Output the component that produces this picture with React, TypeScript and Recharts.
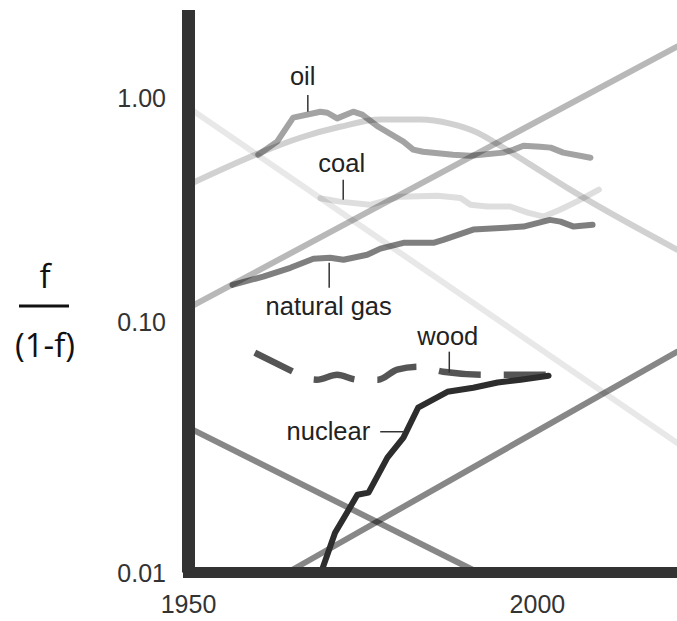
import { LineChart, Line, XAxis, YAxis, ReferenceLine, ReferenceDot } from "recharts";

// ---- data (f/(1-f) on a log scale) ----
const X_TICKS = [1950, 2000];
const Y_TICKS = [0.0077, 0.1, 1];
const Y_TICK_LABELS = ["0.01", "0.10", "1.00"];

const coalFitYears = [1950, 2020];
const coalFitValues = [0.904, 0.0291];

const oilFitYears = [1950, 1960.3, 1966.0, 1971.7, 1977.5, 1983.2, 1987.5, 1991.1, 1995.1, 1999.0, 2004.7, 2020];
const oilFitValues = [0.41, 0.57, 0.664, 0.743, 0.8, 0.8, 0.767, 0.706, 0.6, 0.504, 0.39, 0.211];

const gasFitYears = [1950, 2020];
const gasFitValues = [0.116, 1.69];

const fallingFitYears = [1950, 1991.5];
const fallingFitValues = [0.034, 0.0077];

const risingFitYears = [1964.2, 2020];
const risingFitValues = [0.0077, 0.074];

const coalYears = [1968.9, 1971.7, 1976.0, 1980.3, 1985.7, 1989.0, 1990.4, 1992.8, 1996.1, 1998.6, 2000.9, 2003.3, 2005.7, 2008.8];
const coalValues = [0.357, 0.345, 0.334, 0.363, 0.366, 0.358, 0.334, 0.328, 0.328, 0.308, 0.296, 0.318, 0.346, 0.39];

const oilYears = [1960.0, 1962.7, 1965.0, 1968.9, 1969.9, 1971.3, 1973.6, 1974.9, 1977.2, 1980.8, 1982.2, 1983.6, 1987.9, 1990.4, 1995.1, 1996.6, 1998.0, 2000.4, 2001.9, 2003.7, 2007.6];
const oilValues = [0.558, 0.638, 0.816, 0.867, 0.858, 0.81, 0.867, 0.841, 0.743, 0.638, 0.588, 0.575, 0.558, 0.552, 0.57, 0.588, 0.612, 0.605, 0.6, 0.57, 0.541];

const gasYears = [1956.3, 1960.7, 1964.6, 1967.9, 1970.3, 1972.2, 1975.6, 1977.5, 1980.8, 1985.1, 1986.5, 1990.8, 1998.0, 2001.8, 2003.3, 2005.2, 2007.9];
const gasValues = [0.147, 0.16, 0.175, 0.192, 0.194, 0.19, 0.2, 0.213, 0.226, 0.226, 0.233, 0.259, 0.267, 0.286, 0.281, 0.267, 0.272];

const woodYears = [1959.5, 1965.0, 1966.7, 1968.4, 1971.3, 1974.2, 1977.2, 1979.9, 1982.9, 1986.5, 1992.5, 2001.8];
const woodValues = [0.0733, 0.0603, 0.0567, 0.0556, 0.0585, 0.0556, 0.0556, 0.0616, 0.0635, 0.0603, 0.0585, 0.0585];

const nuclearYears = [1969.0, 1971.0, 1972.7, 1974.2, 1975.8, 1978.5, 1980.8, 1982.9, 1987.1, 1990.8, 1994.3, 1997.6, 2001.6];
const nuclearValues = [0.0077, 0.01158, 0.01422, 0.0171, 0.01746, 0.025, 0.0307, 0.0417, 0.0491, 0.0512, 0.054, 0.0556, 0.0579];

// labels: text, anchor year/value, leader line from (year1,value1) to (year2,value2)
const labelTexts = ["oil", "coal", "natural gas", "wood", "nuclear"];
const labelYears = [1966.36, 1971.95, 1970.09, 1987.16, 1976.04];
const labelValues = [1.144, 0.469, 0.1082, 0.0796, 0.03];
const leaderFrom = [[1967.1, 1.03], [1972.17, 0.4317], [1970.16, 0.1844], [1987.37, 0.0741], [1977.47, 0.0326]];
const leaderTo = [[1967.1, 0.867], [1972.17, 0.352], [1970.16, 0.1427], [1987.37, 0.0597], [1980.77, 0.0326]];

const toPoints = (years: number[], values: number[]) =>
  years.map((year, i) => ({ year, value: values[i] }));

const FONT = "'Liberation Sans', Arial, Helvetica, sans-serif";
const DARK = "#333";

const series = [
  { key: "coalFit", data: toPoints(coalFitYears, coalFitValues), opacity: 0.09, curve: "linear" },
  { key: "oilFit", data: toPoints(oilFitYears, oilFitValues), opacity: 0.18, curve: "monotone" },
  { key: "gasFit", data: toPoints(gasFitYears, gasFitValues), opacity: 0.28, curve: "linear" },
  { key: "fallingFit", data: toPoints(fallingFitYears, fallingFitValues), opacity: 0.47, curve: "linear" },
  { key: "risingFit", data: toPoints(risingFitYears, risingFitValues), opacity: 0.47, curve: "linear" },
  { key: "coal", data: toPoints(coalYears, coalValues), opacity: 0.13, curve: "linear" },
  { key: "oil", data: toPoints(oilYears, oilValues), opacity: 0.36, curve: "linear" },
  { key: "gas", data: toPoints(gasYears, gasValues), opacity: 0.5, curve: "linear" },
];

const XTick = ({ x, y, payload }: any) => (
  <text x={x} y={y + 40} textAnchor="middle" fontSize={25} fontFamily={FONT} fill={DARK}>
    {payload.value}
  </text>
);

const YTick = ({ x, y, payload }: any) => {
  const i = Y_TICKS.indexOf(payload.value);
  return (
    <text x={x - 22.5} y={y} dy="0.36em" textAnchor="end" fontSize={25} fontFamily={FONT} fill={DARK}>
      {Y_TICK_LABELS[i]}
    </text>
  );
};

// the f / (1-f) title on the left
const YTitle = () => (
  <g fontFamily="'Open Sans', sans-serif" fill="#111">
    <text x={45} y={288} textAnchor="middle" fontSize={33}>f</text>
    <line x1={19} x2={69} y1={306} y2={306} stroke="#111" strokeWidth={3} />
    <text x={45} y={357} textAnchor="middle" fontSize={33}>(1-f)</text>
  </g>
);

export default function App() {
  return (
    <div style={{ position: "absolute", left: 0, top: 0, width: 677, height: 621, background: "#fff" }}>
      <LineChart width={677} height={621} margin={{ top: 10, right: 0, bottom: 0, left: 0 }}>
        <XAxis
          type="number"
          dataKey="year"
          domain={[1950, 2020]}
          ticks={X_TICKS}
          height={48.5}
          tickSize={0}
          tickMargin={0}
          tickLine={false}
          axisLine={{ stroke: DARK, strokeWidth: 11, strokeLinecap: "square" }}
          tick={<XTick />}
        />
        <YAxis
          type="number"
          dataKey="value"
          scale="log"
          domain={[0.0077, 2.46]}
          ticks={Y_TICKS}
          width={188.5}
          tickSize={0}
          tickMargin={0}
          tickLine={false}
          axisLine={{ stroke: DARK, strokeWidth: 13 }}
          tick={<YTick />}
          label={{ content: () => <YTitle /> }}
        />
        {series.map((s) => (
          <Line
            key={s.key}
            data={s.data}
            dataKey="value"
            type={s.curve as any}
            stroke="#000"
            strokeOpacity={s.opacity}
            strokeWidth={6}
            strokeLinecap="round"
            strokeLinejoin="round"
            dot={false}
            activeDot={false}
            isAnimationActive={false}
          />
        ))}
        <Line
          data={toPoints(woodYears, woodValues)}
          dataKey="value"
          type="monotone"
          stroke="#555"
          strokeWidth={6.5}
          strokeDasharray="42 23"
          dot={false}
          activeDot={false}
          isAnimationActive={false}
        />
        <Line
          data={toPoints(nuclearYears, nuclearValues)}
          dataKey="value"
          type="linear"
          stroke="#2d2d2d"
          strokeWidth={6}
          strokeLinecap="round"
          strokeLinejoin="round"
          dot={false}
          activeDot={false}
          isAnimationActive={false}
        />
        {leaderFrom.map((from, i) => (
          <ReferenceLine
            key={"leader" + i}
            segment={[
              { x: from[0], y: from[1] },
              { x: leaderTo[i][0], y: leaderTo[i][1] },
            ]}
            stroke={DARK}
            strokeWidth={1.5}
            ifOverflow="visible"
          />
        ))}
        {labelTexts.map((t, i) => (
          <ReferenceDot
            key={t}
            x={labelYears[i]}
            y={labelValues[i]}
            r={0}
            ifOverflow="visible"
            shape={(p: any) => (
              <text
                x={p.cx}
                y={p.cy}
                textAnchor={t === "nuclear" ? "end" : "middle"}
                fontSize={25.5}
                fontFamily={FONT}
                fill="#222"
              >
                {t}
              </text>
            )}
          />
        ))}
      </LineChart>
    </div>
  );
}
